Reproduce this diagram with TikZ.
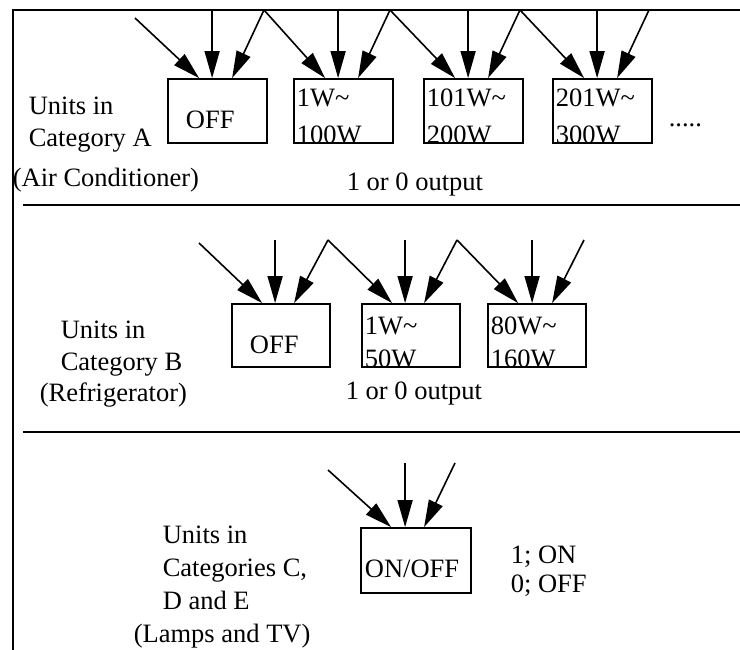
\documentclass[tikz,border=0pt]{standalone}
\usepackage{fontspec}
\setmainfont{Liberation Serif}
\usetikzlibrary{positioning,arrows.meta}

\begin{document}
\begin{tikzpicture}[x=1pt,y=-1pt,line width=1.6pt,
    every node/.style={font=\fontsize{26.5}{30}\selectfont,inner sep=0pt},
    rangebox/.style={draw,line width=1.8pt,minimum width=99pt,minimum height=64pt},
    txt/.style={anchor=base west},
    feed/.style={-{Triangle[length=27pt,width=15pt]},line width=1.6pt}]
    \useasboundingbox (0,0) rectangle (740,650);
    \draw[line width=2.4pt] (740,10) -- (13,10) -- (13,650);
    \draw[line width=2pt] (23,205) -- (740,205);
    \draw[line width=2pt] (23,432) -- (740,432);

    \node[rangebox] (offA) at (217.5,111) {};
    \node[rangebox] (a1) at (343.5,111) {};
    \node[rangebox] (a2) at (473.5,111) {};
    \node[rangebox] (a3) at (602.5,111) {};
    \node[txt] (offAtxt) at ([shift={(18,-15)}]offA.south west) {OFF};
    \node[txt] (a1top) at ([shift={(3,28)}]a1.north west) {1W\textasciitilde};
    \node[txt] (a1bot) at ([shift={(3,0)}]a1.south west) {100W};
    \node[txt] (a2top) at ([shift={(3,28)}]a2.north west) {101W\textasciitilde};
    \node[txt] (a2bot) at ([shift={(3,0)}]a2.south west) {200W};
    \node[txt] (a3top) at ([shift={(3,28)}]a3.north west) {201W\textasciitilde};
    \node[txt] (a3bot) at ([shift={(3,0)}]a3.south west) {300W};
    \node[txt] (dotsA) at (668,127) {.....};
    \node[txt] (outA) at (346,191) {1 or 0 output};
    \node[txt] (labA1) at (28,115) {Units in};
    \node[txt] (labA2) at (28,147) {Category A};
    \node[txt] (labA3) at (12,187) {(Air Conditioner)};

    \coordinate (sA0) at (135,18);
    \coordinate (sA1) at (264,10);
    \coordinate (sA2) at (390,10);
    \coordinate (sA3) at (520,10);
    \coordinate (sA4) at (649,10);
    \draw[feed] (sA0) -- ([xshift=32pt]offA.north west);
    \draw[feed] (sA1) -- ([xshift=65pt]offA.north west);
    \draw[feed] (sA1) -- ([xshift=32pt]a1.north west);
    \draw[feed] (sA2) -- ([xshift=65pt]a1.north west);
    \draw[feed] (sA2) -- ([xshift=32pt]a2.north west);
    \draw[feed] (sA3) -- ([xshift=65pt]a2.north west);
    \draw[feed] (sA3) -- ([xshift=32pt]a3.north west);
    \draw[feed] (sA4) -- ([xshift=65pt]a3.north west);
    \draw[feed] ([xshift=45pt]offA.north west |- sA1) -- ([xshift=45pt]offA.north west);
    \draw[feed] ([xshift=45pt]a1.north west |- sA1) -- ([xshift=45pt]a1.north west);
    \draw[feed] ([xshift=45pt]a2.north west |- sA1) -- ([xshift=45pt]a2.north west);
    \draw[feed] ([xshift=45pt]a3.north west |- sA1) -- ([xshift=45pt]a3.north west);

    \node[rangebox,minimum width=98pt,minimum height=63pt] (offB) at (281,335.5) {};
    \node[rangebox,minimum width=98pt,minimum height=63pt] (b1) at (411,335.5) {};
    \node[rangebox,minimum width=98pt,minimum height=63pt] (b2) at (537,335.5) {};
    \node[txt] (offBtxt) at ([shift={(18,-14)}]offB.south west) {OFF};
    \node[txt] (b1top) at ([shift={(3,31)}]b1.north west) {1W\textasciitilde};
    \node[txt] (b1bot) at ([shift={(3,0)}]b1.south west) {50W};
    \node[txt] (b2top) at ([shift={(3,31)}]b2.north west) {80W\textasciitilde};
    \node[txt] (b2bot) at ([shift={(3,0)}]b2.south west) {160W};
    \node[txt] (outB) at (345,399) {1 or 0 output};
    \node[txt] (labB1) at (60,338) {Units in};
    \node[txt] (labB2) at (60,370) {Category B};
    \node[txt] (labB3) at (39,401) {(Refrigerator)};

    \coordinate (sB0) at (199,243);
    \coordinate (sB1) at (328,240);
    \coordinate (sB2) at (457,240);
    \coordinate (sB3) at (584,240);
    \draw[feed] (sB0) -- ([xshift=31pt]offB.north west);
    \draw[feed] (sB1) -- ([xshift=63pt]offB.north west);
    \draw[feed] (sB1) -- ([xshift=31pt]b1.north west);
    \draw[feed] (sB2) -- ([xshift=63pt]b1.north west);
    \draw[feed] (sB2) -- ([xshift=31pt]b2.north west);
    \draw[feed] (sB3) -- ([xshift=65pt]b2.north west);
    \draw[feed] ([xshift=44pt]offB.north west |- sB1) -- ([xshift=44pt]offB.north west);
    \draw[feed] ([xshift=44pt]b1.north west |- sB1) -- ([xshift=44pt]b1.north west);
    \draw[feed] ([xshift=45pt]b2.north west |- sB1) -- ([xshift=45pt]b2.north west);

    \node[rangebox,minimum width=110pt,minimum height=65pt] (onoff) at (416,560.5) {};
    \node[txt] (onofftxt) at ([shift={(4,-16)}]onoff.south west) {ON/OFF};
    \node[txt] (on) at (510,563) {1; ON};
    \node[txt] (off) at (510,592) {0; OFF};
    \node[txt] (labC1) at (162,543) {Units in};
    \node[txt] (labC2) at (162,576) {Categories C,};
    \node[txt] (labC3) at (162,609) {D and E};
    \node[txt] (labC4) at (133,642) {(Lamps and TV)};

    \coordinate (sC0) at (328,470);
    \coordinate (sC1) at (455,463);
    \draw[feed] (sC0) -- ([xshift=31pt]onoff.north west);
    \draw[feed] ([xshift=45pt]onoff.north west |- sC1) -- ([xshift=45pt]onoff.north west);
    \draw[feed] (sC1) -- ([xshift=64pt]onoff.north west);
\end{tikzpicture}
\end{document}
